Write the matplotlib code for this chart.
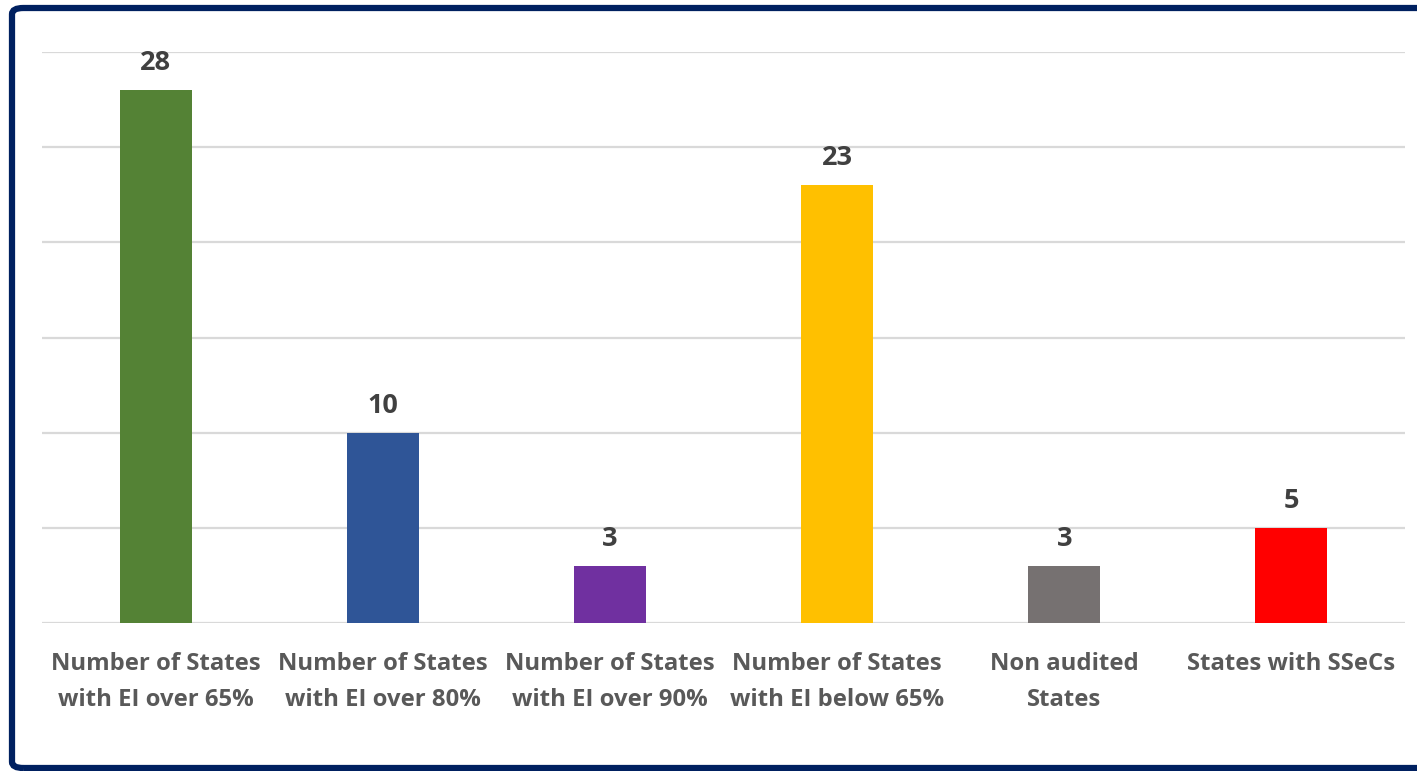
import matplotlib
matplotlib.use("Agg")
import matplotlib.pyplot as plt
from matplotlib.patches import FancyBboxPatch

categories = [
    "Number of States\nwith EI over 65%",
    "Number of States\nwith EI over 80%",
    "Number of States\nwith EI over 90%",
    "Number of States\nwith EI below 65%",
    "Non audited\nStates",
    "States with SSeCs",
]
values = [28, 10, 3, 23, 3, 5]
colors = ["#548235", "#2F5597", "#7030A0", "#FFC000", "#767171", "#FF0000"]
y_ticks = [0, 5, 10, 15, 20, 25, 30]

plt.rcParams["font.family"] = ["Open Sans", "DejaVu Sans"]

W, H = 1417, 771
fig = plt.figure(figsize=(W / 100, H / 100), dpi=100)
fig.patch.set_facecolor("white")

ax = fig.add_axes([42 / W, 1 - 623 / H, (1405 - 42) / W, (623 - 52) / H])
x = list(range(len(categories)))
bars = ax.bar(x, values, width=0.317, color=colors, zorder=3)

ax.set_xlim(-0.5, len(categories) - 0.5)
ax.set_ylim(0, 30)
ax.set_yticks(y_ticks)
ax.yaxis.grid(True, color="#D9D9D9", linewidth=1.6, zorder=0)
ax.tick_params(axis="y", left=False, labelleft=False)
ax.tick_params(axis="x", bottom=False, pad=17.5)
ax.set_xticks(x)
ax.set_xticklabels(categories, fontsize=17.2, fontweight="bold",
                   color="#595959", linespacing=1.63)
for s in ax.spines.values():
    s.set_visible(False)

for b, v in zip(bars, values):
    ax.annotate(str(v), (b.get_x() + b.get_width() / 2, v),
                xytext=(0, 14.5), textcoords="offset points",
                ha="center", va="baseline", fontsize=19.5, fontweight="bold",
                color="#404040")

# outer frame
frame = FancyBboxPatch((12 / W, 3 / H), (W + 40) / W, (H - 11) / H,
                       boxstyle="round,pad=0,rounding_size=0.008",
                       transform=fig.transFigure, fill=False,
                       edgecolor="#002060", linewidth=4.5, clip_on=False)
fig.patches.append(frame)

fig.savefig("out.png", dpi=100, facecolor="white")
